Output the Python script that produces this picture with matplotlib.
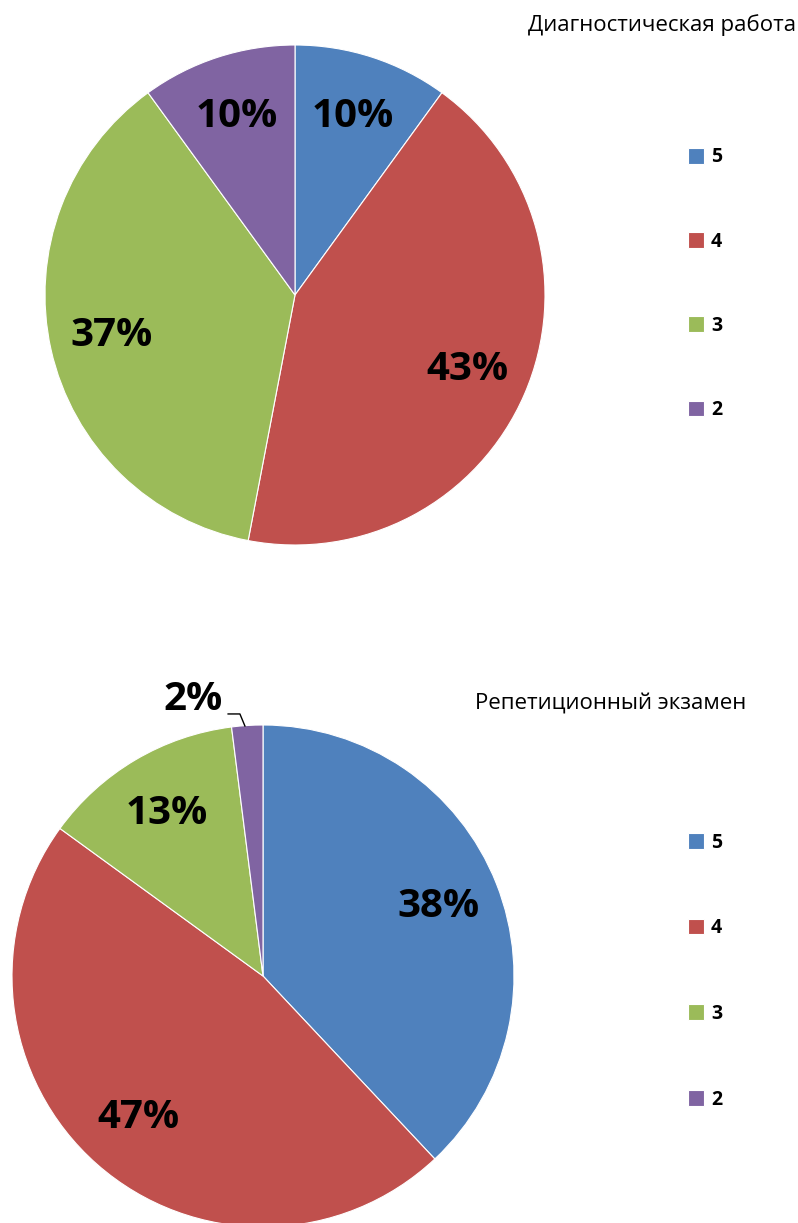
import matplotlib.pyplot as plt

# data
grades = ['5', '4', '3', '2']
diag_share = [10, 43, 37, 10]
exam_share = [38, 47, 13, 2]
titles = ['Диагностическая работа', 'Репетиционный экзамен']
colors = ['#4F81BD', '#C0504D', '#9BBB59', '#8064A2']

W, H = 798, 1223
plt.rcParams['font.family'] = ['Open Sans', 'DejaVu Sans']


def pix_axes(fig, cx, cy, r):
    # axes box in pixel terms -> figure fraction
    return fig.add_axes([(cx - r) / W, 1 - (cy + r) / H, 2 * r / W, 2 * r / H])


def draw_pie(ax, values):
    wedges, _, autotexts = ax.pie(values, colors=colors, startangle=90, counterclock=False,
                                  autopct='%1.0f%%', pctdistance=0.75,
                                  wedgeprops=dict(edgecolor='white', linewidth=0.8),
                                  textprops=dict(fontsize=29, fontweight='bold', color='black'))
    ax.set_xlim(-1, 1)
    ax.set_ylim(-1, 1)
    ax.set_aspect('equal')
    ax.axis('off')
    return wedges, autotexts


def add_legend(fig, wedges, top_px, spacing):
    fig.legend(wedges, grades, loc='upper left', bbox_to_anchor=(670 / W, 1 - top_px / H),
               frameon=False, handlelength=0.85, handleheight=0.85, handletextpad=0.35,
               labelspacing=spacing, prop=dict(size=14, weight='bold'))


fig = plt.figure(figsize=(W / 100, H / 100), dpi=100)

ax1 = pix_axes(fig, 295, 295, 250)
w1, t1 = draw_pie(ax1, diag_share)
fig.text(796 / W, 1 - 25 / H, titles[0], ha='right', va='center', fontsize=16)
add_legend(fig, w1, 130, 3.3)

ax2 = pix_axes(fig, 263, 976, 251)
w2, t2 = draw_pie(ax2, exam_share)
for w in w2:
    w.set_clip_on(False)
# the 2% slice label sits outside with a leader line
t2[3].set_position((-0.28, 1.10))
ax2.plot([-0.072, -0.092, -0.139], [0.996, 1.044, 1.044], color='black', lw=1, clip_on=False)
fig.text(746 / W, 1 - 703 / H, titles[1], ha='right', va='center', fontsize=16)
add_legend(fig, w2, 815, 3.38)

fig.savefig('out.png', dpi=100, facecolor='white')
